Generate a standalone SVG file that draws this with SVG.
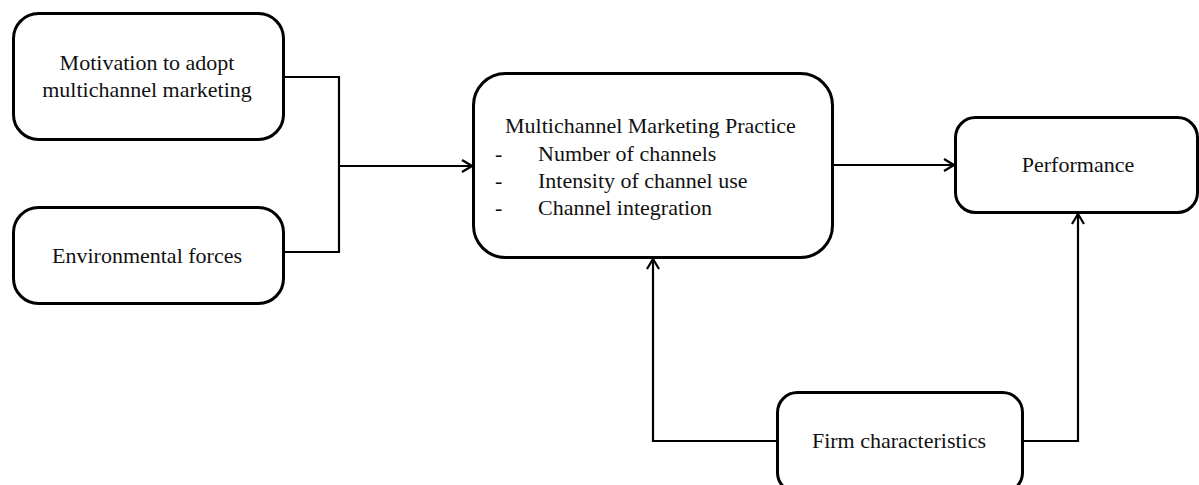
<svg xmlns="http://www.w3.org/2000/svg" width="1199" height="485" viewBox="0 0 1199 485">
<defs>
<marker id="arr" viewBox="0 0 12 14" refX="11" refY="7" markerWidth="12" markerHeight="14" markerUnits="userSpaceOnUse" orient="auto">
<path d="M1,1 L11,7 L1,13" fill="none" stroke="#000" stroke-width="2.2"/>
</marker>
<style>
.box{fill:#fff;stroke:#000;stroke-width:3}
.t{font-family:"Liberation Serif","Times New Roman",serif;font-size:22px;fill:#111}
.c{text-anchor:middle}
.ln{fill:none;stroke:#000;stroke-width:2.2}
</style>
</defs>
<rect width="1199" height="485" fill="#fff"/>
<g id="connectors">
<path class="ln" d="M283,77 H339 V252 H283"/>
<path class="ln" d="M339,166 H472" marker-end="url(#arr)"/>
<path class="ln" d="M832,165 H954" marker-end="url(#arr)"/>
<path class="ln" d="M777,441 H653 V259" marker-end="url(#arr)"/>
<path class="ln" d="M1023,441 H1078 V214" marker-end="url(#arr)"/>
</g>
<g id="motivation">
<rect class="box" x="13.5" y="13.5" width="270" height="126" rx="25"/>
<text class="t c" x="147" y="70">Motivation to adopt</text>
<text class="t c" x="147" y="97">multichannel marketing</text>
</g>
<g id="environmental">
<rect class="box" x="13.5" y="207.5" width="270" height="96" rx="25"/>
<text class="t c" x="147" y="263">Environmental forces</text>
</g>
<g id="practice">
<rect class="box" x="473.5" y="73.5" width="359" height="184" rx="32"/>
<text class="t" x="505" y="133">Multichannel Marketing Practice</text>
<text class="t" x="495" y="161">-</text>
<text class="t" x="538" y="161">Number of channels</text>
<text class="t" x="495" y="188">-</text>
<text class="t" x="538" y="188">Intensity of channel use</text>
<text class="t" x="495" y="215">-</text>
<text class="t" x="538" y="215">Channel integration</text>
</g>
<g id="performance">
<rect class="box" x="955.5" y="117.5" width="242" height="95" rx="20"/>
<text class="t c" x="1078" y="172">Performance</text>
</g>
<g id="firm">
<rect class="box" x="777.5" y="392.5" width="245" height="100" rx="20"/>
<text class="t c" x="899" y="448">Firm characteristics</text>
</g>
</svg>
